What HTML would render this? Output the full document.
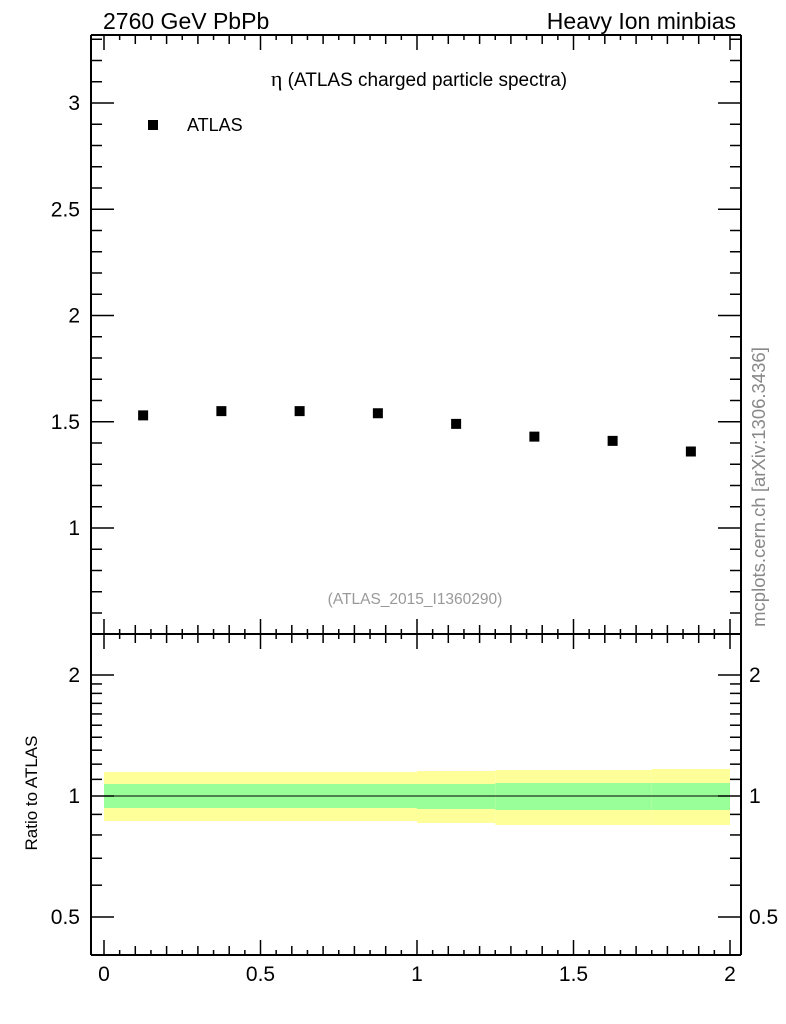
<!DOCTYPE html>
<html><head><meta charset="utf-8"><style>
html,body{margin:0;padding:0;background:#fff;}
svg{display:block;font-family:"Liberation Sans",Arial,sans-serif;}
</style></head><body>
<svg id="s" width="786" height="1024" xmlns="http://www.w3.org/2000/svg">
<text x="103" y="29" font-size="23">2760 GeV PbPb</text>
<text x="736" y="29" font-size="23" text-anchor="end">Heavy Ion minbias</text>
<text x="419" y="86" font-size="19" text-anchor="middle"><tspan font-family="'Liberation Serif',serif" font-size="22">η</tspan> (ATLAS charged particle spectra)</text>
<rect x="148" y="120" width="10" height="10" fill="#000"/>
<text x="187" y="131" font-size="18">ATLAS</text>
<text x="415" y="604" font-size="15.5" fill="#999" text-anchor="middle">(ATLAS_2015_I1360290)</text>
<text transform="translate(765,487) rotate(-90)" font-size="18.5" fill="#888" text-anchor="middle">mcplots.cern.ch [arXiv:1306.3436]</text>
<text transform="translate(37,793) rotate(-90)" font-size="17" text-anchor="middle">Ratio to ATLAS</text>
<g id="bands"></g>
<g id="g" stroke="#000" fill="none"></g>
<g id="t" font-size="21"></g>
</svg>
<script>
const NS="http://www.w3.org/2000/svg";
const g=document.getElementById('g'),t=document.getElementById('t'),b=document.getElementById('bands');
function L(x1,y1,x2,y2,w){const e=document.createElementNS(NS,'line');e.setAttribute('x1',x1);e.setAttribute('y1',y1);e.setAttribute('x2',x2);e.setAttribute('y2',y2);e.setAttribute('stroke-width',w||1);g.appendChild(e);}
function T(x,y,s,a){const e=document.createElementNS(NS,'text');e.setAttribute('x',x);e.setAttribute('y',y);e.setAttribute('text-anchor',a||'middle');e.textContent=s;t.appendChild(e);}
function R(x,y,w,h,c,p){const e=document.createElementNS(NS,'rect');e.setAttribute('x',x);e.setAttribute('y',y);e.setAttribute('width',w);e.setAttribute('height',h);e.setAttribute('fill',c);(p||b).appendChild(e);}
const X0=104,XS=313,L0=91,R0=741,T0=35,M0=634,B0=955;
const X=v=>X0+v*XS;
const YM=v=>528-(v-1)*212.5;
const YR=v=>796-402*Math.log10(v);
const segs=[[0,1,772,821,784,808],[1,1.25,771,823,784,809],[1.25,1.75,770,825,783,810],[1.75,2,769,825,783,810]];
segs.forEach(s=>{R(X(s[0]),s[2],X(s[1])-X(s[0]),s[3]-s[2],'#ffff99');R(X(s[0]),s[4],X(s[1])-X(s[0]),s[5]-s[4],'#99ff99');});
L(L0,T0,R0,T0,2);L(L0,T0,L0,B0,2);L(R0,T0,R0,B0,2);L(L0,M0,R0,M0,2);L(L0,B0,R0,B0,2);
L(X(0),796,X(2),796,1);
for(let i=0;i<=40;i++){const v=i*0.05,x=X(v);if(x<L0||x>R0)continue;
 const maj=i%10==0,med=i%2==0;const l=maj?15:(med?9:5);
 L(x,T0,x,T0+l,1.5);L(x,M0-l,x,M0+l,1.5);L(x,B0-l,x,B0,1.5);}
for(let i=5;i<=33;i++){const v=i*0.1,y=YM(v);if(y<T0||y>M0)continue;const l=i%5==0?23:11;
 L(L0,y,L0+l,y,1.5);L(R0-l,y,R0,y,1.5);}
[[1,'1'],[1.5,'1.5'],[2,'2'],[2.5,'2.5'],[3,'3']].forEach(a=>T(80,YM(a[0])+7,a[1],'end'));
const rt=[0.4,0.5,0.6,0.7,0.8,0.9,1,1.1,1.2,1.3,1.4,1.5,1.6,1.7,1.8,1.9,2];
rt.forEach(v=>{const y=YR(v);if(y<M0||y>B0)return;const maj=(v==0.5||v==1||v==2);const l=maj?23:11;
 L(L0,y,L0+l,y,1.5);L(R0-l,y,R0,y,1.5);});
[[0.5,'0.5'],[1,'1'],[2,'2']].forEach(a=>{T(80,YR(a[0])+7,a[1],'end');T(749,YR(a[0])+7,a[1],'start');});
[[0,'0'],[0.5,'0.5'],[1,'1'],[1.5,'1.5'],[2,'2']].forEach(a=>T(X(a[0]),981,a[1]));
[1.53,1.55,1.55,1.54,1.49,1.43,1.41,1.36].forEach((v,i)=>R(X(0.125+i*0.25)-5,YM(v)-5,10,10,'#000',t));
</script>
</body></html>
